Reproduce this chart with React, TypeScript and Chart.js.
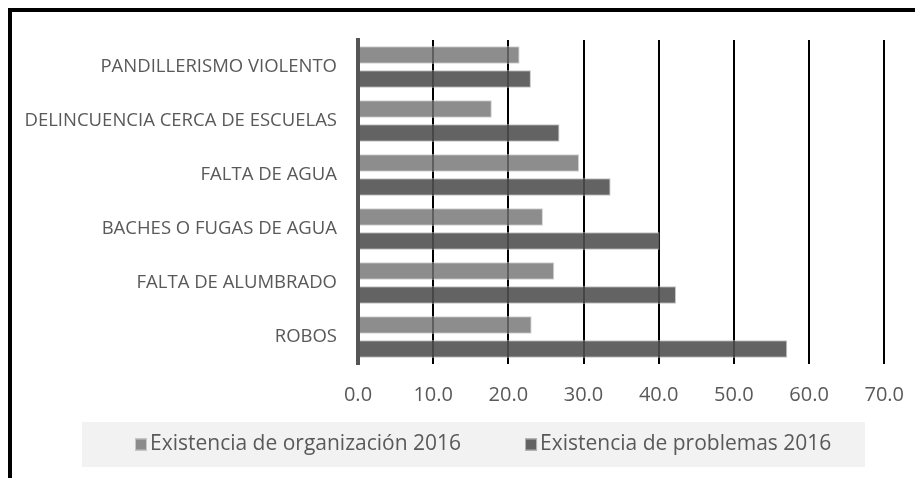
import React, { useEffect, useRef } from "react";
import { Chart, registerables } from "chart.js";

Chart.register(...registerables);

const categories = [
  "PANDILLERISMO VIOLENTO",
  "DELINCUENCIA CERCA DE ESCUELAS",
  "FALTA DE AGUA",
  "BACHES O FUGAS DE AGUA",
  "FALTA DE ALUMBRADO",
  "ROBOS",
];
const organizacion2016 = [21.5, 17.8, 29.4, 24.6, 26.1, 23.1];
const problemas2016 = [23.0, 26.8, 33.6, 40.1, 42.3, 57.1];
const seriesNames = ["Existencia de organización 2016", "Existencia de problemas 2016"];
const xMin = 0;
const xMax = 70;
const xStep = 10;

const FONT = "'Open Sans', 'DejaVu Sans', sans-serif";

// Legend drawn on the chart canvas from the chart's own datasets
const boxLegend = {
  id: "boxLegend",
  afterDraw(chart: any) {
    const o = chart.options.plugins.boxLegend;
    const ctx = chart.ctx;
    ctx.save();
    ctx.fillStyle = o.background;
    ctx.fillRect(o.left, o.top, o.width, o.height);
    ctx.font = `${o.fontSize}px ${FONT}`;
    ctx.textBaseline = "middle";
    ctx.textAlign = "left";
    const cy = o.top + o.height / 2;
    let x = o.left + o.startPad;
    chart.data.datasets.forEach((ds: any) => {
      const b = o.box;
      ctx.fillStyle = ds.backgroundColor;
      ctx.fillRect(x, cy - b / 2, b, b);
      ctx.strokeStyle = ds.borderColor;
      ctx.lineWidth = 1;
      ctx.strokeRect(x + 0.5, cy - b / 2 + 0.5, b - 1, b - 1);
      x += b + o.textGap;
      ctx.fillStyle = o.color;
      ctx.fillText(ds.label, x, cy);
      x += ctx.measureText(ds.label).width + o.itemGap;
    });
    ctx.restore();
  },
};

export default function App() {
  const ref = useRef<HTMLCanvasElement>(null);
  useEffect(() => {
    if (!ref.current) return;
    const chart = new Chart(ref.current, {
      type: "bar",
      data: {
        labels: categories,
        datasets: [
          {
            label: seriesNames[0],
            data: organizacion2016,
            backgroundColor: "rgba(116,116,116,0.82)",
            borderColor: "rgba(205,205,205,0.9)",
            borderWidth: 1,
            categoryPercentage: 0.89,
            barPercentage: 0.72,
          },
          {
            label: seriesNames[1],
            data: problemas2016,
            backgroundColor: "rgba(80,80,80,0.89)",
            borderColor: "rgba(190,190,190,0.9)",
            borderWidth: 1,
            categoryPercentage: 0.89,
            barPercentage: 0.72,
          },
        ],
      },
      options: {
        indexAxis: "y",
        responsive: false,
        animation: false,
        layout: { padding: { left: 8, right: 37, top: 40, bottom: 56 } },
        scales: {
          x: {
            min: xMin,
            max: xMax,
            ticks: {
              stepSize: xStep,
              callback: (v: any) => Number(v).toFixed(1),
              font: { family: FONT, size: 20 },
              color: "#595959",
              padding: 19,
            },
            grid: { color: "#000000", lineWidth: 2, drawTicks: false },
            border: { display: false },
            afterFit: (s: any) => {
              s.height = 58;
            },
          },
          y: {
            grid: { display: false, drawTicks: false },
            border: { color: "#555555", width: 4, z: 1 },
            ticks: {
              font: { family: FONT, size: 18.5 },
              color: "#595959",
              padding: 21,
            },
            afterFit: (s: any) => {
              s.width = 350;
            },
          },
        },
        plugins: {
          legend: { display: false },
          tooltip: { enabled: false },
          boxLegend: {
            left: 82,
            top: 422,
            width: 783,
            height: 45,
            background: "#f2f2f2",
            startPad: 53,
            box: 12,
            textGap: 3,
            itemGap: 64,
            fontSize: 21,
            color: "#595959",
          },
        } as any,
      },
      plugins: [boxLegend],
    });
    return () => chart.destroy();
  }, []);

  return (
    <div
      style={{
        position: "relative",
        width: 923,
        height: 478,
        margin: "-8px 0 0 -8px",
        overflow: "hidden",
        background: "#ffffff",
      }}
    >
      <canvas
        ref={ref}
        width={923}
        height={478}
        style={{ position: "absolute", left: 0, top: 0, width: 923, height: 478 }}
      />
      <div
        style={{
          position: "absolute",
          left: 7,
          top: 7,
          width: 1000,
          height: 1000,
          border: "5px solid #000000",
          pointerEvents: "none",
        }}
      />
    </div>
  );
}
